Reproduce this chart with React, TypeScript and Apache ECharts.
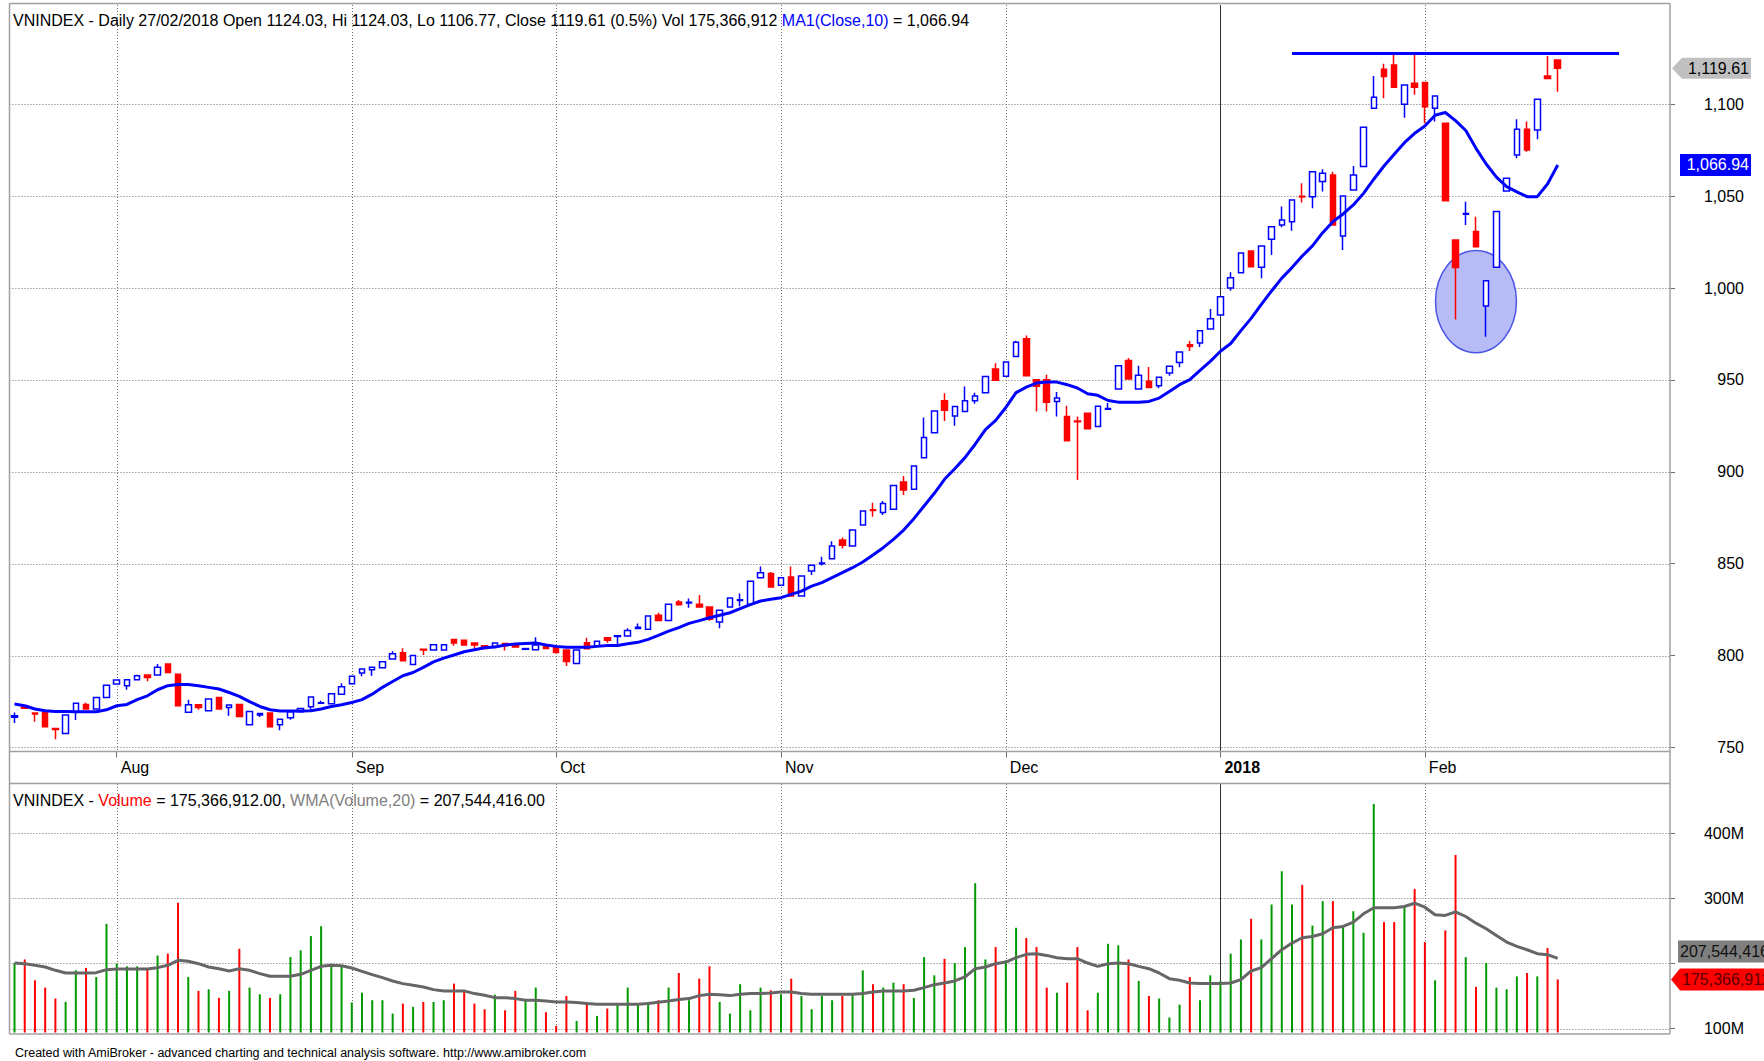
import React, { useEffect, useRef } from 'react';
import * as echarts from 'echarts';

// ---------------- data ----------------
const SYMBOL = 'VNINDEX';
const LAST_DATE = '27/02/2018';

// daily bars: [open, close, low, high]
const ohlc: number[][] = [
  [766.5, 767.2, 763.3, 769.0], [772.2, 771.4, 771.2, 773.0], [768.8, 768.2, 764.0, 768.8], [769.1, 761.3, 761.3, 769.1],
  [760.3, 759.8, 754.5, 760.3], [757.6, 767.6, 757.6, 767.6], [769.4, 774.1, 765.0, 774.1], [773.4, 770.9, 770.9, 774.3],
  [770.9, 777.2, 770.9, 777.2], [777.2, 783.9, 777.2, 783.9], [784.5, 786.7, 784.5, 786.7], [783.6, 786.8, 781.4, 786.8],
  [786.8, 789.0, 786.8, 789.6], [789.4, 788.1, 786.0, 789.4], [789.4, 793.6, 789.4, 795.4], [795.4, 790.8, 790.5, 795.4],
  [789.9, 772.7, 772.7, 789.9], [769.1, 773.2, 769.1, 776.0], [773.2, 771.8, 770.5, 773.2], [770.0, 776.3, 770.0, 776.3],
  [777.2, 770.9, 770.9, 777.2], [771.8, 773.1, 767.2, 773.1], [773.4, 766.9, 766.9, 773.4], [762.3, 769.6, 762.3, 769.6],
  [767.7, 768.5, 766.6, 768.5], [768.7, 761.3, 761.3, 768.7], [762.3, 765.4, 759.3, 765.4], [766.2, 769.4, 765.1, 769.4],
  [769.4, 771.2, 769.4, 771.2], [772.1, 777.4, 770.5, 777.4], [774.0, 774.3, 774.0, 775.4], [773.8, 779.2, 773.8, 779.2],
  [778.9, 783.0, 778.9, 785.0], [784.7, 788.7, 784.7, 788.7], [790.5, 792.7, 788.7, 792.7], [792.3, 793.6, 789.0, 793.6],
  [793.4, 796.7, 793.4, 796.7], [798.1, 801.0, 798.1, 802.3], [801.5, 797.2, 797.2, 804.0], [795.2, 800.1, 795.2, 800.1],
  [803.4, 803.0, 800.3, 803.4], [803.0, 805.9, 803.0, 805.9], [803.0, 805.9, 803.0, 805.9], [808.8, 806.8, 805.4, 808.8],
  [808.4, 805.7, 805.7, 808.4], [806.8, 805.7, 803.9, 806.8], [805.4, 803.9, 803.9, 805.4], [805.0, 806.8, 805.0, 806.8],
  [806.6, 805.4, 802.8, 806.6], [805.7, 804.6, 804.6, 805.7], [803.4, 803.8, 803.4, 803.8], [803.2, 805.7, 803.2, 809.9],
  [805.4, 803.9, 803.9, 805.4], [804.4, 801.7, 801.7, 804.4], [803.0, 796.8, 794.3, 803.0], [795.7, 803.0, 795.7, 803.0],
  [807.0, 803.7, 803.7, 809.7], [805.2, 807.8, 805.2, 807.8], [809.7, 808.3, 807.0, 809.7], [810.4, 810.8, 806.0, 810.8],
  [810.6, 813.7, 810.6, 814.8], [814.7, 815.4, 814.7, 817.5], [814.3, 821.5, 814.3, 821.5], [821.9, 819.1, 819.1, 823.3],
  [819.1, 827.9, 819.1, 827.9], [829.1, 827.7, 827.7, 830.2], [828.6, 829.0, 826.0, 831.0], [827.9, 826.4, 826.4, 833.0],
  [826.4, 819.7, 819.0, 826.4], [818.2, 824.6, 814.8, 824.6], [826.4, 831.3, 826.4, 831.3], [830.0, 830.4, 826.9, 833.8],
  [827.9, 840.4, 827.9, 840.4], [842.4, 845.1, 842.4, 848.4], [844.6, 837.3, 837.3, 845.5], [838.2, 842.4, 838.2, 842.4],
  [842.8, 832.4, 832.4, 848.4], [832.4, 843.3, 832.4, 843.3], [846.0, 849.1, 843.8, 849.1], [850.0, 850.4, 849.0, 853.8],
  [852.7, 859.6, 852.7, 862.2], [862.9, 860.0, 858.2, 864.2], [859.6, 868.3, 859.6, 868.3], [871.0, 878.7, 871.0, 878.7],
  [879.4, 878.9, 875.6, 883.2], [877.8, 882.8, 876.5, 884.1], [879.6, 892.6, 879.6, 892.6], [894.5, 890.1, 887.4, 897.7],
  [890.5, 903.2, 890.5, 903.2], [907.7, 918.6, 907.7, 929.5], [921.3, 933.1, 921.3, 933.1], [938.7, 933.5, 927.7, 942.7],
  [930.4, 935.5, 925.0, 935.5], [932.8, 938.6, 932.8, 946.4], [938.6, 941.3, 937.0, 943.0], [943.0, 951.8, 943.0, 951.8],
  [956.0, 949.8, 949.8, 959.0], [952.0, 959.7, 952.0, 959.7], [962.7, 970.5, 962.7, 971.3], [972.4, 952.3, 952.3, 974.2],
  [950.1, 946.5, 932.8, 950.1], [950.1, 937.9, 932.8, 952.8], [938.3, 940.1, 930.1, 943.4], [930.1, 916.9, 916.9, 935.9],
  [927.6, 927.2, 895.6, 930.1], [931.9, 923.4, 923.4, 931.9], [924.7, 935.6, 924.7, 935.6], [934.0, 934.4, 934.0, 937.4],
  [945.0, 957.7, 945.0, 957.7], [960.6, 950.5, 950.5, 961.9], [945.0, 952.6, 945.0, 957.7], [949.2, 945.9, 945.9, 957.0],
  [946.8, 951.4, 945.5, 951.4], [953.7, 957.4, 952.2, 957.4], [959.5, 965.2, 956.9, 965.2], [969.1, 968.2, 965.7, 971.2],
  [970.1, 976.8, 967.9, 976.8], [977.7, 983.3, 977.7, 988.6], [985.3, 995.2, 985.3, 995.2], [1000.0, 1005.6, 998.5, 1008.6],
  [1008.3, 1019.1, 1008.3, 1019.1], [1020.1, 1011.6, 1011.6, 1020.1], [1011.3, 1022.9, 1005.3, 1022.9], [1026.5, 1033.4, 1018.0, 1033.4],
  [1034.3, 1037.0, 1033.0, 1044.3], [1036.1, 1047.9, 1031.2, 1047.9], [1050.0, 1049.5, 1046.5, 1057.0], [1049.7, 1063.3, 1043.4, 1063.3],
  [1057.9, 1062.4, 1052.5, 1064.6], [1061.5, 1034.3, 1034.3, 1063.3], [1028.3, 1050.1, 1020.7, 1050.1], [1053.4, 1061.5, 1053.4, 1066.4],
  [1066.1, 1087.5, 1066.1, 1087.5], [1097.8, 1103.8, 1097.8, 1115.4], [1119.1, 1115.1, 1103.3, 1122.0], [1121.4, 1109.3, 1109.3, 1127.4],
  [1100.0, 1110.5, 1092.7, 1110.5], [1111.4, 1109.3, 1105.1, 1127.4], [1111.8, 1098.7, 1089.7, 1111.8], [1097.8, 1104.5, 1090.6, 1104.5],
  [1089.7, 1047.5, 1047.5, 1089.7], [1026.1, 1011.1, 982.9, 1026.1], [1040.1, 1040.5, 1034.3, 1047.0], [1030.7, 1022.5, 1022.5, 1038.8],
  [990.2, 1004.0, 973.5, 1004.0], [1011.3, 1041.6, 1011.3, 1041.6], [1052.8, 1059.7, 1052.8, 1059.7], [1072.4, 1086.4, 1070.6, 1091.8],
  [1086.4, 1075.1, 1074.2, 1090.6], [1086.0, 1102.7, 1080.9, 1102.7], [1115.4, 1114.0, 1114.0, 1126.3], [1124.03, 1119.61, 1106.77, 1124.03],
];

// MA1(Close,10)
const ma10: number[] = [
  773.6, 772.7, 770.9, 770.0, 769.6, 769.6, 769.4, 769.4, 769.4, 770.5,
  772.7, 773.4, 776.0, 778.1, 781.4, 783.6, 784.3, 784.3, 783.6, 782.7,
  781.8, 779.9, 777.8, 774.9, 772.3, 770.5, 769.8, 769.8, 769.8, 770.0,
  770.9, 772.3, 773.2, 774.5, 776.0, 779.0, 782.7, 785.9, 789.0, 790.8,
  793.6, 796.6, 798.6, 800.3, 802.1, 803.2, 804.3, 804.6, 805.7, 806.3,
  806.6, 806.8, 805.7, 805.0, 804.5, 804.5, 804.5, 805.0, 805.5, 805.5,
  806.4, 807.2, 808.8, 811.0, 813.3, 815.2, 817.5, 819.0, 820.6, 821.9,
  823.3, 825.5, 827.7, 829.7, 830.6, 831.5, 833.3, 835.1, 837.8, 839.7,
  842.4, 845.1, 847.8, 850.9, 854.7, 858.7, 863.2, 868.3, 874.5, 881.4,
  888.3, 895.9, 901.7, 907.7, 915.0, 923.0, 928.0, 935.0, 943.1, 946.1,
  948.3, 948.8, 948.8, 947.4, 945.6, 942.5, 941.6, 938.8, 937.9, 937.9,
  937.9, 938.3, 940.1, 943.7, 947.4, 950.1, 955.2, 960.1, 965.6, 969.8,
  976.8, 983.5, 991.1, 998.4, 1005.4, 1011.1, 1017.4, 1022.9, 1030.1, 1036.1,
  1040.3, 1045.2, 1051.5, 1059.2, 1066.4, 1072.8, 1079.1, 1084.2, 1088.2, 1094.0,
  1095.5, 1091.1, 1085.7, 1076.0, 1067.5, 1060.3, 1055.2, 1052.3, 1049.7, 1049.7,
  1056.6, 1066.94,
];

// Volume, millions of shares
const volumeM: number[] = [
  200.5, 206, 174, 162.8, 146, 141, 189.3, 193, 179, 260.7,
  199.5, 195.4, 195.4, 190.3, 212, 215, 293, 179, 157.7, 160.2,
  147, 157.7, 222.4, 162.8, 152.6, 147, 152.6, 209.7, 220, 241.8,
  257, 199.5, 195.4, 140, 155, 143.4, 143.4, 123, 138.3, 133.2,
  140.8, 140.8, 143.4, 168.9, 157.7, 138.3, 129.6, 152, 128, 157.7,
  143.4, 162.8, 125, 104, 150, 111.7, 140.8, 119.4, 130.6, 138.3,
  162.8, 138.3, 140.8, 143.4, 162.8, 185.2, 143.4, 176.5, 195.4, 140.8,
  123, 168, 128, 162.8, 158.7, 152.6, 176.5, 150, 129.6, 150,
  143.4, 150, 152.6, 189.3, 168, 162.8, 170.4, 168, 147, 209.7,
  181.6, 207, 200.5, 225, 323, 206, 225, 204.6, 254.6, 238.8,
  225, 162.8, 155, 170.4, 225, 128, 155, 230, 227.6, 206,
  173, 150, 146, 117, 136.7, 179, 143.4, 181.6, 173, 214.8,
  236.7, 268.4, 236.7, 290.3, 341.3, 290.3, 320.4, 258, 295.4, 295.4,
  258, 280, 247, 444.4, 263.3, 263.3, 286, 314.3, 232.7, 174,
  250.5, 366.3, 209.7, 163.8, 200.5, 162.8, 160.2, 180, 185.2, 180,
  223.5, 175.366912,
];

// WMA(Volume,20), millions
const wma20M: number[] = [
  200.5, 199.5, 197.0, 194.4, 189.3, 185.2, 185.2, 185.2, 185.7, 190.3,
  191.3, 191.3, 191.3, 191.3, 193.4, 197.0, 204.6, 203.1, 199.5, 194.4,
  191.8, 188.3, 191.8, 189.3, 184.2, 180.1, 180.1, 180.1, 183.2, 189.3,
  195.4, 197.0, 196.4, 192.9, 187.8, 182.7, 178.1, 173.0, 168.9, 166.3,
  163.8, 159.7, 157.7, 157.7, 157.7, 153.6, 151.0, 147.4, 147.4, 145.9,
  143.4, 143.4, 142.3, 140.8, 140.8, 139.8, 138.3, 137.2, 137.2, 137.2,
  137.2, 137.2, 138.3, 140.3, 142.3, 144.4, 145.9, 150.5, 152.6, 152.0,
  150.5, 152.6, 153.6, 153.6, 154.6, 156.1, 156.1, 153.6, 152.6, 152.6,
  152.6, 152.6, 152.6, 153.6, 156.1, 157.7, 157.7, 157.7, 158.7, 162.8,
  167.3, 169.9, 173.0, 179.1, 191.8, 194.4, 199.5, 202.0, 208.7, 213.8,
  214.8, 212.2, 208.7, 207.1, 207.1, 200.5, 195.4, 199.5, 200.5, 199.5,
  195.4, 191.8, 185.2, 176.5, 174.0, 169.9, 168.9, 168.9, 168.9, 169.9,
  175.0, 188.3, 193.4, 207.1, 220.9, 231.1, 239.3, 241.3, 245.4, 254.6,
  256.6, 263.3, 276.0, 285.2, 285.2, 285.2, 287.2, 292.3, 286.2, 274.5,
  273.5, 279.1, 271.9, 261.7, 253.1, 242.9, 232.7, 226.0, 220.9, 214.8,
  213.3, 207.544416,
];

// first bar of each month (bar index) and its label
const monthTicks = [
  { index: 10, label: 'Aug', year: false },
  { index: 33, label: 'Sep', year: false },
  { index: 53, label: 'Oct', year: false },
  { index: 75, label: 'Nov', year: false },
  { index: 97, label: 'Dec', year: false },
  { index: 118, label: '2018', year: true },
  { index: 138, label: 'Feb', year: false },
];
const priceTicks = [750, 800, 850, 900, 950, 1000, 1050, 1100];
const volumeTicks = [100, 200, 300, 400];
// the 200M label is hidden behind the value markers in the reference
const volumeLabelTicks = [100, 300, 400];
const BLANK_BARS = 10; // empty space to the right of the last bar
const resistance = { fromIndex: 125, toIndex: 157, level: 1128 };
const highlight = { index: 143, price: 992.6, halfWidthBars: 3.96, heightPts: 27.8 };

// ---------------- layout & style ----------------
const W = 1764;
const H = 1061;
const FONT = '"Liberation Sans", Arial, Helvetica, sans-serif';
const PLOT_L = 9.4;
const BAR_W = 10.22;
const N = ohlc.length + BLANK_BARS;
const PLOT_W = N * BAR_W;
const AXIS_X = 1670;
const LABEL_RIGHT = 1744;
const PRICE_TOP = 5;
const PRICE_BOTTOM = 751.5;
const VOL_TOP = 784;
const VOL_BOTTOM = 1032.5;
const PRICE_MIN = 747.8;
const PRICE_MAX = 1154;
const VOL_MIN = 93.9;
const VOL_MAX = 475.2;
const GREEN = '#009a00';
const RED = '#ff0000';
const BLUE = '#0000ff';
const GRID_GRAY = '#6f6f6f';
const FRAME = '#a0a0a0';

const categories = Array.from({ length: N }, (_, k) => String(k));
const monthByIndex = new Map(monthTicks.map((m) => [m.index, m]));

const fmt = (v: number, d: number) =>
  v.toLocaleString('en-US', { minimumFractionDigits: d, maximumFractionDigits: d });

function hGridSeries(ticks: number[], gi: number) {
  return {
    type: 'custom',
    xAxisIndex: gi,
    yAxisIndex: gi,
    silent: true,
    z: 0,
    data: ticks.map((v) => [0, v]),
    encode: { x: 0, y: 1 },
    renderItem: (params: any, api: any) => {
      const cs = params.coordSys;
      const y = Math.round(api.coord([0, api.value(1)])[1]) + 0.5;
      return {
        type: 'line',
        shape: { x1: cs.x, y1: y, x2: AXIS_X, y2: y },
        style: { stroke: GRID_GRAY, lineWidth: 1, lineDash: [1, 2] },
      };
    },
  };
}

function vGridSeries(gi: number, yVal: number) {
  return {
    type: 'custom',
    xAxisIndex: gi,
    yAxisIndex: gi,
    silent: true,
    z: 0,
    data: monthTicks.map((m) => [m.index, yVal, m.year ? 1 : 0]),
    encode: { x: 0, y: 1 },
    renderItem: (params: any, api: any) => {
      const cs = params.coordSys;
      const x = Math.round(api.coord([api.value(0), yVal])[0]) + 0.5;
      const year = api.value(2) === 1;
      return {
        type: 'line',
        shape: { x1: x, y1: cs.y, x2: x, y2: cs.y + cs.height },
        style: year
          ? { stroke: '#303030', lineWidth: 1 }
          : { stroke: GRID_GRAY, lineWidth: 1, lineDash: [1, 2] },
      };
    },
  };
}

function buildOption(): any {
  const axisFont = { fontSize: 16, fontFamily: FONT, color: '#000' };
  return {
    animation: false,
    backgroundColor: '#ffffff',
    grid: [
      { left: PLOT_L, top: PRICE_TOP, width: PLOT_W, height: PRICE_BOTTOM - PRICE_TOP, containLabel: false, outerBoundsMode: 'none' },
      { left: PLOT_L, top: VOL_TOP, width: PLOT_W, height: VOL_BOTTOM - VOL_TOP, containLabel: false, outerBoundsMode: 'none' },
    ],
    xAxis: [
      {
        type: 'category',
        gridIndex: 0,
        data: categories,
        boundaryGap: true,
        axisLine: { show: false },
        axisTick: {
          show: true,
          alignWithLabel: true,
          interval: (i: number) => monthByIndex.has(i),
          length: 6,
          lineStyle: { color: GRID_GRAY, width: 1 },
        },
        axisLabel: {
          show: true,
          interval: (i: number) => monthByIndex.has(i),
          formatter: (_v: string, i: number) => {
            const m = monthByIndex.get(i);
            if (!m) return '';
            return m.year ? `{y|${m.label}}` : m.label;
          },
          align: 'left',
          margin: 8,
          padding: [0, 0, 0, 4],
          ...axisFont,
          rich: { y: { fontSize: 16, fontFamily: FONT, fontWeight: 'bold', color: '#000' } },
        },
        splitLine: { show: false },
      },
      {
        type: 'category',
        gridIndex: 1,
        data: categories,
        boundaryGap: true,
        axisLine: { show: false },
        axisTick: { show: false },
        axisLabel: { show: false },
        splitLine: { show: false },
      },
    ],
    yAxis: [
      {
        type: 'value',
        gridIndex: 0,
        position: 'right',
        offset: AXIS_X - (PLOT_L + PLOT_W),
        min: PRICE_MIN,
        max: PRICE_MAX,
        scale: true,
        axisLine: { show: false },
        splitLine: { show: false },
        axisTick: { show: true, length: 5, customValues: priceTicks, lineStyle: { color: GRID_GRAY } },
        axisLabel: {
          customValues: priceTicks,
          formatter: (v: number) => Number(v).toLocaleString('en-US'),
          align: 'right',
          margin: LABEL_RIGHT - AXIS_X,
          ...axisFont,
        },
      },
      {
        type: 'value',
        gridIndex: 1,
        position: 'right',
        offset: AXIS_X - (PLOT_L + PLOT_W),
        min: VOL_MIN,
        max: VOL_MAX,
        scale: true,
        axisLine: { show: false },
        splitLine: { show: false },
        axisTick: { show: true, length: 5, customValues: volumeTicks, lineStyle: { color: GRID_GRAY } },
        axisLabel: {
          customValues: volumeLabelTicks,
          formatter: (v: number) => `${Math.round(v)}M`,
          align: 'right',
          margin: LABEL_RIGHT - AXIS_X,
          ...axisFont,
        },
      },
    ],
    series: [
      hGridSeries(priceTicks, 0),
      vGridSeries(0, priceTicks[2]),
      hGridSeries(volumeTicks, 1),
      vGridSeries(1, volumeTicks[1]),
      {
        type: 'custom',
        name: 'highlight',
        xAxisIndex: 0,
        yAxisIndex: 0,
        silent: true,
        z: 1,
        data: [[highlight.index, highlight.price, highlight.halfWidthBars, highlight.heightPts]],
        encode: { x: 0, y: 1 },
        renderItem: (_params: any, api: any) => {
          const c = api.coord([api.value(0), api.value(1)]);
          const band = api.size([1, 0])[0];
          const ry = api.size([0, api.value(3)])[1];
          return {
            type: 'ellipse',
            shape: { cx: c[0], cy: c[1], rx: band * api.value(2), ry },
            style: { fill: '#b8bcf6', stroke: '#4a55e8', lineWidth: 1.5 },
          };
        },
      },
      {
        type: 'candlestick',
        name: SYMBOL,
        xAxisIndex: 0,
        yAxisIndex: 0,
        z: 2,
        barWidth: 6,
        data: ohlc,
        itemStyle: {
          color: '#ffffff',
          color0: RED,
          borderColor: BLUE,
          borderColor0: RED,
          borderWidth: 1.5,
        },
        markLine: {
          silent: true,
          symbol: ['none', 'none'],
          label: { show: false },
          lineStyle: { color: BLUE, width: 3, type: 'solid' },
          data: [
            [
              { coord: [resistance.fromIndex, resistance.level] },
              { coord: [resistance.toIndex, resistance.level] },
            ],
          ],
        },
      },
      {
        type: 'line',
        name: 'MA1(Close,10)',
        xAxisIndex: 0,
        yAxisIndex: 0,
        z: 3,
        data: ma10,
        symbol: 'none',
        showSymbol: false,
        lineStyle: { color: BLUE, width: 3 },
      },
      {
        type: 'bar',
        name: 'Volume',
        xAxisIndex: 1,
        yAxisIndex: 1,
        z: 2,
        barWidth: 2,
        data: volumeM.map((v, k) => ({
          value: v,
          itemStyle: { color: ohlc[k][1] >= ohlc[k][0] ? GREEN : RED },
        })),
      },
      {
        type: 'line',
        name: 'WMA(Volume,20)',
        xAxisIndex: 1,
        yAxisIndex: 1,
        z: 3,
        data: wma20M,
        symbol: 'none',
        showSymbol: false,
        lineStyle: { color: '#666666', width: 3 },
      },
    ],
  };
}

function buildGraphics(chart: any): any[] {
  const last = ohlc[ohlc.length - 1];
  const prev = ohlc[ohlc.length - 2];
  const [o, c, l, h] = last;
  const pct = (((c - prev[1]) / prev[1]) * 100).toFixed(1);
  const lastVol = volumeM[volumeM.length - 1];
  const lastWma = wma20M[wma20M.length - 1];
  const lastMa = ma10[ma10.length - 1];
  const volInt = Math.round(lastVol * 1e6).toLocaleString('en-US');
  const wmaInt = Math.round(lastWma * 1e6).toLocaleString('en-US');

  const yClose = chart.convertToPixel({ yAxisIndex: 0 }, c);
  const yMa = chart.convertToPixel({ yAxisIndex: 0 }, lastMa);
  const yVol = chart.convertToPixel({ yAxisIndex: 1 }, lastVol);
  let yWma = chart.convertToPixel({ yAxisIndex: 1 }, lastWma);
  if (yVol - yWma < 28) yWma = yVol - 28;

  const txt = (x: number, y: number, text: string, extra: any = {}) => ({
    type: 'text',
    silent: true,
    z: 100,
    style: {
      x,
      y,
      text,
      fill: '#000',
      fontSize: 16,
      fontFamily: FONT,
      textVerticalAlign: 'middle',
      verticalAlign: 'middle',
      ...extra,
    },
  });
  const line = (x1: number, y1: number, x2: number, y2: number) => ({
    type: 'line',
    silent: true,
    z: 50,
    shape: { x1, y1, x2, y2 },
    style: { stroke: FRAME, lineWidth: 1.5 },
  });

  const richFont = { fontSize: 16, fontFamily: FONT };

  return [
    // frame
    line(9.5, 3.5, AXIS_X, 3.5),
    line(9.5, 3.5, 9.5, 1034),
    line(AXIS_X, 3.5, AXIS_X, 1034),
    line(9.5, PRICE_BOTTOM, AXIS_X, PRICE_BOTTOM),
    line(9.5, VOL_TOP - 0.5, AXIS_X, VOL_TOP - 0.5),
    line(9.5, 1034, AXIS_X, 1034),
    // titles
    txt(
      13,
      20,
      `${SYMBOL} - Daily ${LAST_DATE} Open ${o.toFixed(2)}, Hi ${h.toFixed(2)}, Lo ${l.toFixed(2)}, Close ${c.toFixed(2)} (${pct}%) Vol ${volInt} {b|MA1(Close,10)} = ${fmt(lastMa, 2)}`,
      { rich: { b: { ...richFont, fill: BLUE, color: BLUE } } }
    ),
    txt(
      13,
      800,
      `${SYMBOL} - {r|Volume} = ${volInt}.00, {g|WMA(Volume,20)} = ${wmaInt}.00`,
      {
        rich: {
          r: { ...richFont, fill: RED, color: RED },
          g: { ...richFont, fill: '#808080', color: '#808080' },
        },
      }
    ),
    txt(15, 1053, 'Created with AmiBroker - advanced charting and technical analysis software. http://www.amibroker.com', {
      fontSize: 12.5,
    }),
    // last close marker
    {
      type: 'polygon',
      silent: true,
      z: 90,
      shape: {
        points: [
          [AXIS_X + 2, yClose],
          [AXIS_X + 12, yClose - 10.5],
          [1751, yClose - 10.5],
          [1751, yClose + 10.5],
          [AXIS_X + 12, yClose + 10.5],
        ],
      },
      style: { fill: '#c0c0c0' },
    },
    txt(1749, yClose, fmt(c, 2), { textAlign: 'right', align: 'right' }),
    // MA marker
    {
      type: 'rect',
      silent: true,
      z: 90,
      shape: { x: 1680, y: yMa - 11, width: 71, height: 22 },
      style: { fill: BLUE },
    },
    txt(1749, yMa, fmt(lastMa, 2), { textAlign: 'right', align: 'right', fill: '#ffffff' }),
    // WMA marker
    {
      type: 'rect',
      silent: true,
      z: 90,
      shape: { x: 1678, y: yWma - 11, width: 90, height: 22 },
      style: { fill: '#7f7f7f' },
    },
    txt(1680, yWma, wmaInt, { fill: '#111111' }),
    // volume marker
    {
      type: 'polygon',
      silent: true,
      z: 90,
      shape: {
        points: [
          [AXIS_X + 1, yVol],
          [1680, yVol - 11],
          [1768, yVol - 11],
          [1768, yVol + 11],
          [1680, yVol + 11],
        ],
      },
      style: { fill: RED },
    },
    txt(1682, yVol, volInt, { fill: '#5a0000' }),
  ];
}

export default function App() {
  const ref = useRef<HTMLDivElement>(null);
  useEffect(() => {
    if (!ref.current) return;
    const chart = echarts.init(ref.current, null, { renderer: 'svg' });
    chart.setOption(buildOption());
    chart.setOption({ graphic: buildGraphics(chart) });
    return () => chart.dispose();
  }, []);
  return (
    <div
      ref={ref}
      style={{ position: 'fixed', left: 0, top: 0, width: W, height: H, background: '#ffffff' }}
    />
  );
}
